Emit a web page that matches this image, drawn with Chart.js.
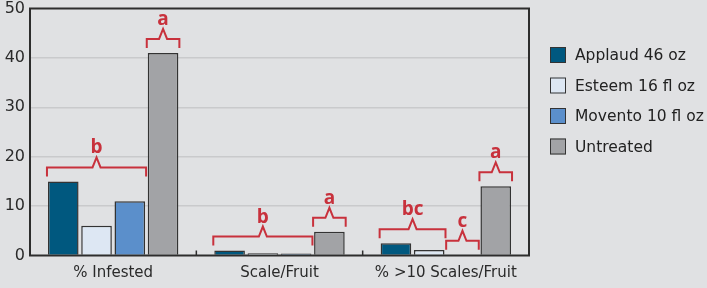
<!DOCTYPE html>
<html lang="en">
<head>
  <meta charset="UTF-8">
  <title>Scale treatments</title>
  <script src="https://cdn.jsdelivr.net/npm/chart.js"></script>
</head>
<style>
  body {
    margin: 0;
    padding: 0;
    background: #e0e1e3;
  }
  .wrap {
    width: 707px;
    height: 288px;
    position: relative;
  }
</style>
<body>
<div class="wrap">
  <canvas id="scaleChart" width="707" height="288"></canvas>
</div>

<script>
  const categories = ['% Infested', 'Scale/Fruit', '% >10 Scales/Fruit'];
  const treatments = ['Applaud 46 oz', 'Esteem 16 fl oz', 'Movento 10 fl oz', 'Untreated'];
  const applaud = [15, 1.0, 2.5];
  const esteem = [6, 0.45, 1.1];
  const movento = [11, 0.4, 0.15];
  const untreated = [41, 4.8, 14];
  const yTicks = [0, 10, 20, 30, 40, 50];

  // significance letters: [letter, first treatment, last treatment] per category
  const letters = [
    [['b', 0, 2], ['a', 3, 3]],
    [['b', 0, 2], ['a', 3, 3]],
    [['bc', 0, 1], ['c', 2, 2], ['a', 3, 3]]
  ];

  const colors = ['#00587f', '#dde7f3', '#5b8fcb', '#a2a3a6'];
  const red = '#c8313c';
  const textFont = 'DejaVu Sans';

  // brackets with letters above bars
  const bracketPlugin = {
    id: 'brackets',
    afterDatasetsDraw(chart) {
      const ctx = chart.ctx;
      ctx.save();
      ctx.strokeStyle = red;
      ctx.fillStyle = red;
      ctx.lineWidth = 2;
      ctx.font = 'bold 19px "Open Sans"';
      ctx.textAlign = 'center';
      ctx.textBaseline = 'alphabetic';
      letters.forEach((groups, i) => {
        groups.forEach(([letter, from, to]) => {
          const first = chart.getDatasetMeta(from).data[i];
          const last = chart.getDatasetMeta(to).data[i];
          const left = first.x - first.width / 2 - 1;
          const right = last.x + last.width / 2 + 1;
          let top = Infinity;
          for (let d = from; d <= to; d++) {
            top = Math.min(top, chart.getDatasetMeta(d).data[i].y);
          }
          const endY = top - 5;
          const lineY = endY - 9;
          const peakY = lineY - 10;
          const mid = (left + right) / 2;
          ctx.beginPath();
          ctx.moveTo(left, endY);
          ctx.lineTo(left, lineY);
          ctx.lineTo(mid - 4, lineY);
          ctx.lineTo(mid, peakY);
          ctx.lineTo(mid + 4, lineY);
          ctx.lineTo(right, lineY);
          ctx.lineTo(right, endY);
          ctx.stroke();
          ctx.fillText(letter, mid, peakY - 4);
        });
      });
      ctx.restore();
    }
  };

  // frame round the plot, separator ticks and the legend
  const framePlugin = {
    id: 'frame',
    afterDraw(chart) {
      const ctx = chart.ctx;
      const a = chart.chartArea;
      const x = chart.scales.x;
      ctx.save();
      ctx.strokeStyle = '#2d2d2d';
      ctx.lineWidth = 2;
      ctx.strokeRect(a.left, a.top, a.right - a.left, a.bottom - a.top);
      ctx.lineWidth = 1.5;
      for (let i = 1; i < categories.length; i++) {
        const sx = (x.getPixelForTick(i - 1) + x.getPixelForTick(i)) / 2;
        ctx.beginPath();
        ctx.moveTo(sx, a.bottom);
        ctx.lineTo(sx, a.bottom - 5);
        ctx.stroke();
      }

      ctx.font = '15.5px "' + textFont + '"';
      ctx.textBaseline = 'middle';
      ctx.textAlign = 'left';
      chart.data.datasets.forEach((ds, i) => {
        const y = 55 + i * 30.5;
        ctx.fillStyle = ds.backgroundColor;
        ctx.fillRect(550, y - 8, 16, 16);
        ctx.strokeStyle = '#333';
        ctx.lineWidth = 1;
        ctx.strokeRect(550.5, y - 7.5, 15, 15);
        ctx.fillStyle = '#222';
        ctx.fillText(ds.label, 575, y + 1);
      });
      ctx.restore();
    }
  };

  const ctx = document.getElementById('scaleChart').getContext('2d');
  const scaleChart = new Chart(ctx, {
    type: 'bar',
    data: {
      labels: categories,
      datasets: [applaud, esteem, movento, untreated].map((values, i) => ({
        label: treatments[i],
        data: values,
        backgroundColor: colors[i],
        borderColor: '#333',
        borderWidth: 1.5,
        borderSkipped: 'bottom',
        categoryPercentage: 0.8,
        barPercentage: 0.92
      }))
    },
    options: {
      responsive: false,
      animation: false,
      devicePixelRatio: 1,
      layout: {
        padding: { top: 8.5, right: 178, left: 0, bottom: 0 }
      },
      plugins: {
        legend: { display: false },
        tooltip: { enabled: false }
      },
      scales: {
        x: {
          grid: { display: false, drawTicks: false },
          border: { display: false },
          ticks: {
            color: '#2a2a2a',
            font: { family: textFont, size: 15 },
            padding: 9,
            maxRotation: 0
          },
          afterFit: s => { s.height = 32.5; }
        },
        y: {
          min: 0,
          max: 50,
          afterBuildTicks: s => { s.ticks = yTicks.map(v => ({ value: v })); },
          grid: {
            color: ctx => (ctx.tick.value === 0 || ctx.tick.value === 50) ? 'rgba(0,0,0,0)' : '#c9cacc',
            lineWidth: 1.5,
            drawTicks: false
          },
          border: { display: false },
          ticks: {
            color: '#2a2a2a',
            font: { family: textFont, size: 16, lineHeight: 1 },
            padding: 5
          },
          afterFit: s => {
            s.width = 30;
            s.paddingTop = 0;
            s.paddingBottom = 0;
          }
        }
      }
    },
    plugins: [bracketPlugin, framePlugin]
  });
</script>
</body>
</html>
